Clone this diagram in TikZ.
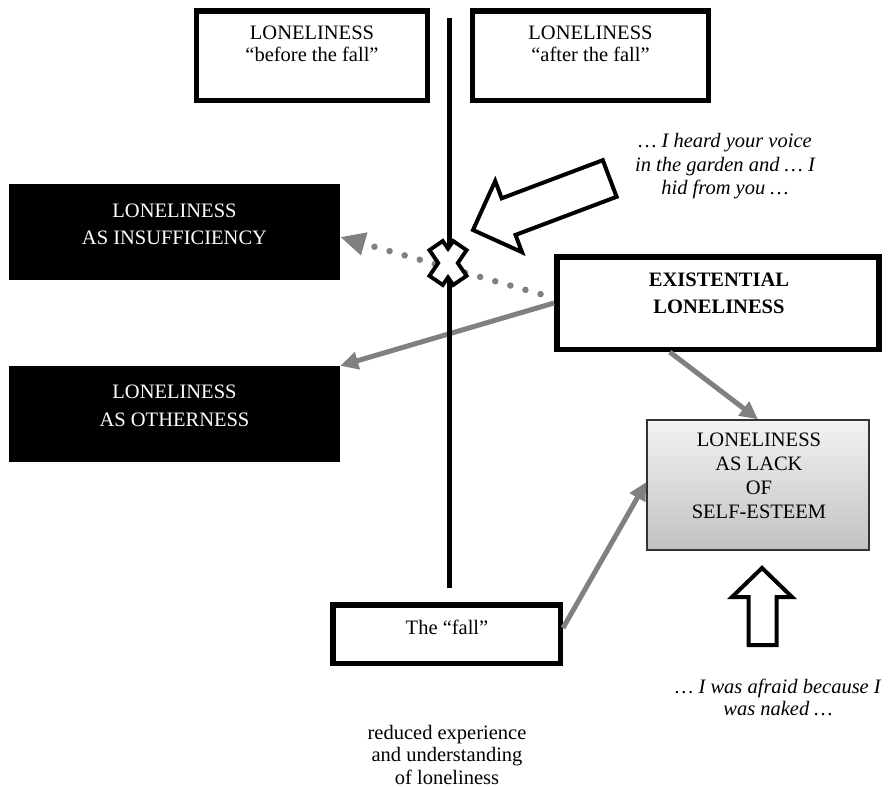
\documentclass[tikz,border=0pt]{standalone}
\usepackage{fontspec}
\setmainfont{Liberation Serif}
\usetikzlibrary{arrows.meta}
\definecolor{arrgray}{RGB}{128,128,128}
\begin{document}
\begin{tikzpicture}[x=1pt,y=-1pt,
  thickbox/.style={draw=black, line width=5.5pt, fill=white, inner sep=0pt},
  blackbox/.style={fill=black, inner sep=0pt},
  lackbox/.style={draw=black!80, line width=1.3pt, top color=gray!10, bottom color=gray!48, inner sep=0pt},
  lbl/.style={align=center, inner sep=0pt},
  garrow/.style={draw=arrgray, line width=5pt, -{Triangle[length=18pt,width=17pt]}},
  dotarrow/.style={draw=arrgray, line width=6.5pt, line cap=round, dash pattern=on 0pt off 15.7pt, shorten <=14pt, -{Triangle[length=25pt,width=22pt]}},
  hollow/.style={draw=black, line width=4pt, fill=white, line join=miter}
]
\useasboundingbox (0,0) rectangle (892,787);

% boxes
\node[thickbox, minimum width=231pt, minimum height=89.5pt] (tl) at (311.75,55.5) {};
\node[thickbox, minimum width=236.4pt, minimum height=89.5pt] (tr) at (590.5,55.5) {};
\node[blackbox, minimum width=331pt, minimum height=96pt] (ins) at (174.5,232) {};
\node[blackbox, minimum width=331pt, minimum height=96pt] (oth) at (174.5,414) {};
\node[thickbox, minimum width=322pt, minimum height=92.5pt] (ecl) at (717.75,303) {};
\node[lackbox, minimum width=222pt, minimum height=130pt] (lack) at (758,485) {};
\node[thickbox, minimum width=227.5pt, minimum height=58.5pt] (fall) at (446.5,634) {};

% texts
\node[lbl, font=\fontsize{20.5}{22}\selectfont] (tlt) at (312,44) {LONELINESS\\“before the fall”};
\node[lbl, font=\fontsize{20.5}{22}\selectfont] (trt) at (590.5,44) {LONELINESS\\“after the fall”};
\node[lbl, text=white, font=\fontsize{20.5}{27.5}\selectfont] (inst) at (174.5,224.5) {LONELINESS\\AS INSUFFICIENCY};
\node[lbl, text=white, font=\fontsize{20.5}{27.5}\selectfont] (otht) at (174.5,406) {LONELINESS\\AS OTHERNESS};
\node[lbl, font=\fontsize{20.5}{27}\selectfont\bfseries] (eclt) at (719,293.5) {EXISTENTIAL\\LONELINESS};
\node[lbl, font=\fontsize{20.5}{24}\selectfont] (lackt) at (759,476) {LONELINESS\\AS LACK\\OF\\SELF-ESTEEM};
\node[lbl, font=\fontsize{20.5}{22}\selectfont] (fallt) at (447,627) {The “fall”};
\node[lbl, font=\fontsize{20.5}{23.5}\selectfont\itshape] (q1) at (725,166.5) {… I heard your voice\\in the garden and … I\\hid from you …};
\node[lbl, font=\fontsize{20.5}{22}\selectfont\itshape] (q2) at (778,697) {… I was afraid because I\\was naked …};
\node[lbl, font=\fontsize{20.5}{22.5}\selectfont] (red) at (447,754.5) {reduced experience\\and understanding\\of loneliness};

% connectors
\draw[dotarrow] ([yshift=5pt]ecl.west) -- ([yshift=-5pt]ins.east);
\draw[garrow] (ecl.west) -- (oth.north east);
\draw[garrow] ([xshift=-48pt]ecl.south) -- (lack.north);
\draw[garrow] ([yshift=6pt]fall.east) -- ([yshift=3pt]lack.west);

% vertical divider
\coordinate (vtop) at (449,18);
\coordinate (vbot) at (449,588);
\draw[line width=5pt] (vtop) -- (vbot);

% X mark
\begin{scope}[shift={(448,263)}]
  \draw[line width=20pt] (-13,-19) -- (13,19) (13,-19) -- (-13,19);
  \draw[white, line width=12pt] (-10.7,-15.7) -- (10.7,15.7) (10.7,-15.7) -- (-10.7,15.7);
\end{scope}

% big hollow arrow
\draw[hollow] (473,230) -- (522.0,252.2) -- (515.5,234.9) -- (616.6,196.8) -- (602.8,160.2) -- (501.7,198.3) -- (495.2,181.0) -- cycle;

% up hollow arrow
\draw[hollow] (762,568) -- (792,597) -- (776.5,597) -- (776.5,645) -- (748.5,645) -- (748.5,597) -- (732,597) -- cycle;
\end{tikzpicture}
\end{document}
